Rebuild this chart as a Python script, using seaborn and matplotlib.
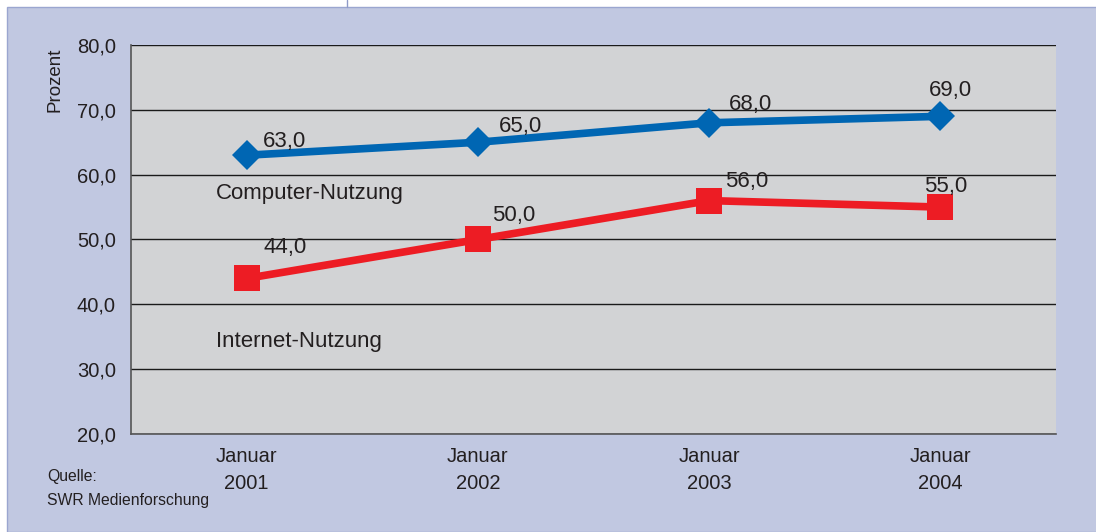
import pandas as pd
import matplotlib
matplotlib.use("Agg")
import matplotlib.pyplot as plt
import seaborn as sns
from matplotlib.patches import Rectangle
from matplotlib.ticker import FuncFormatter, FixedLocator
from matplotlib.lines import Line2D

# Daten
jahre = ["Januar\n2001", "Januar\n2002", "Januar\n2003", "Januar\n2004"]
computer = [63.0, 65.0, 68.0, 69.0]
internet = [44.0, 50.0, 56.0, 55.0]
# Versatz der Wertebeschriftungen (Punkte, Grundlinie)
computer_offsets = [(27.4, 5.9), (31, 7.3), (29.5, 9.2), (7.2, 14.6)]
internet_offsets = [(27.4, 18.3), (25.9, 13.3), (27.4, 9.8), (3.6, 10.9)]

sns.set_style("white")
plt.rcParams['font.family'] = ['Liberation Sans', 'DejaVu Sans']

PANEL = "#c1c8e1"
PLOT_BG = "#d2d3d5"
BLUE = "#0066b3"
RED = "#ed1c24"
TEXT = "#231f20"

fig = plt.figure(figsize=(10.96, 5.32), dpi=100)
fig.patch.set_facecolor("white")
fig.patches.append(Rectangle((7 / 1096, 0), 1, 1 - 7 / 532, transform=fig.transFigure,
                             facecolor=PANEL, edgecolor="#9ba6d0", linewidth=1, zorder=-10))
fig.lines.append(Line2D([347 / 1096, 347 / 1096], [1 - 7 / 532, 1], transform=fig.transFigure,
                        color="#8f9bc8", linewidth=1))

ax = fig.add_axes([131 / 1096, 1 - 434 / 532, 925 / 1096, 389 / 532])
ax.set_facecolor(PLOT_BG)

df = pd.DataFrame({"Jahr": jahre, "Computer": computer, "Internet": internet})

sns.lineplot(data=df, x="Jahr", y="Computer", ax=ax, color=BLUE, linewidth=5.5,
             marker="D", markersize=15, markeredgewidth=0, sort=False, zorder=3)
sns.lineplot(data=df, x="Jahr", y="Internet", ax=ax, color=RED, linewidth=5.5,
             marker="s", markersize=19, markeredgewidth=0, sort=False, zorder=3)

for i, (v, off) in enumerate(zip(computer, computer_offsets)):
    ax.annotate(f"{v:.1f}".replace(".", ","), (i, v), xytext=off, textcoords="offset points",
                ha="center", va="baseline", fontsize=16, color=TEXT)
for i, (v, off) in enumerate(zip(internet, internet_offsets)):
    ax.annotate(f"{v:.1f}".replace(".", ","), (i, v), xytext=off, textcoords="offset points",
                ha="center", va="baseline", fontsize=16, color=TEXT)

ax.text(-0.132, 56.25, "Computer-Nutzung", fontsize=16, color=TEXT, va="baseline", ha="left")
ax.text(-0.132, 33.4, "Internet-Nutzung", fontsize=16, color=TEXT, va="baseline", ha="left")

ax.set_xlim(-0.5, 3.5)
ax.set_ylim(20, 80)
ax.yaxis.set_major_locator(FixedLocator([20, 30, 40, 50, 60, 70, 80]))
ax.yaxis.set_major_formatter(FuncFormatter(lambda v, p: f"{v:.1f}".replace(".", ",")))
ax.grid(axis="y", color="#1a1a1a", linewidth=1)
ax.set_axisbelow(True)

ax.xaxis.set_major_locator(FixedLocator([-0.5, 0.5, 1.5, 2.5, 3.5]))
ax.xaxis.set_major_formatter(FuncFormatter(lambda v, p: ""))
ax.xaxis.set_minor_locator(FixedLocator([0, 1, 2, 3]))
ax.set_xticklabels(jahre, minor=True)
ax.tick_params(axis="x", which="minor", length=0, pad=9, labelsize=14.5, labelcolor=TEXT)
ax.tick_params(axis="x", which="major", length=5, width=1, color="#333333", direction="out")
ax.tick_params(axis="y", length=6, width=1, color="#333333", direction="out", pad=5,
               labelsize=14.5, labelcolor=TEXT)
for lbl in ax.get_xticklabels(minor=True):
    lbl.set_linespacing(1.55)

for side in ["top", "right"]:
    ax.spines[side].set_visible(False)
for side in ["left", "bottom"]:
    ax.spines[side].set_color("#555555")
    ax.spines[side].set_linewidth(1.2)

ax.set_xlabel("")
ax.set_ylabel("")

fig.text(55 / 1096, 1 - 80 / 532, "Prozent", rotation=90, ha="center", va="center",
         fontsize=13.5, color=TEXT)
fig.text(47 / 1096, 1 - 477 / 532, "Quelle:", ha="left", va="center", fontsize=11.3, color=TEXT)
fig.text(47 / 1096, 1 - 500 / 532, "SWR Medienforschung", ha="left", va="center",
         fontsize=11.3, color=TEXT)

fig.savefig("out.png", dpi=100, facecolor=fig.get_facecolor())
